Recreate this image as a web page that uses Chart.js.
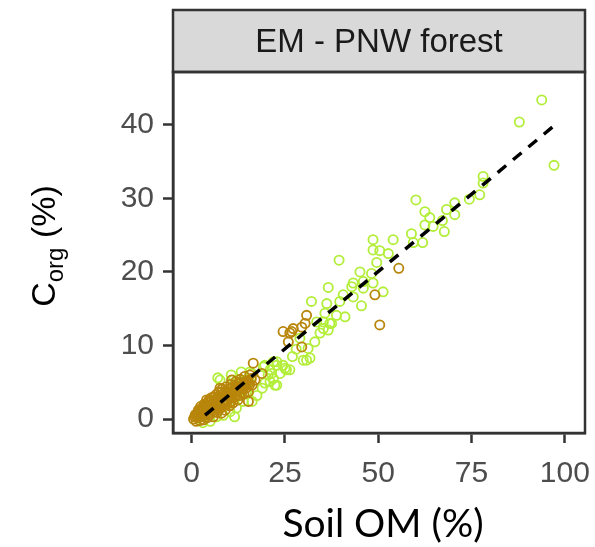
<!DOCTYPE html>
<html lang="en">
<head>
  <meta charset="UTF-8" />
  <title>EM - PNW forest</title>
  <script src="https://cdn.jsdelivr.net/npm/chart.js"></script>
  <style>
    body { margin: 0; background: #fff; }
    canvas { display: block; }
  </style>
</head>
<body>
  <canvas id="corgChart" width="595" height="547"></canvas>

  <script>
    // facet label + tick labels
    const panelTitle = "EM - PNW forest";
    const xTicks = [0, 25, 50, 75, 100];
    const yTicks = [0, 10, 20, 30, 40];

    // [Soil OM %, Corg %]
    const greenPoints = [
      [93.8,43.4],[87.8,40.4],[97.1,34.5],
      [78.1,33.0],[78.1,32.1],[77.2,30.5],[74.4,29.9],[70.5,29.4],[68.3,28.5],[70.5,27.8],[67.2,27.0],[67.7,25.5],[64.7,26.2],
      [60.1,29.8],[62.5,28.2],[63.8,27.4],[62.5,26.4],[58.9,25.2],[61.9,24.0],[59.4,24.0],[54.0,24.4],[48.6,24.4],[48.6,23.0],
      [50.4,22.9],[52.7,22.5],[49.6,21.3],[45.1,20.0],[48.2,19.8],[43.3,18.5],[46.0,18.7],[48.6,18.5],[51.3,17.3],[39.5,21.6],
      [36.6,17.9],[42.9,18.0],[46.0,17.8],[40.6,16.9],[43.3,16.6],[39.7,16.0],[36.2,15.7],[45.5,15.4],[41.1,13.9],[35.3,13.2],
      [37.5,13.0],[36.6,12.1],[32.1,16.0],[35.7,14.4],[38.8,14.1],[33.5,13.2],[35.3,12.3],[37.0,13.0],[34.4,11.7],[31.2,9.6],
      [31.7,8.3],[29.9,8.0],[30.8,8.0],[24.5,7.3],[21.9,7.8],[15.6,6.4],[21.0,6.7],[21.9,5.5],[26.3,6.7],[22.8,7.8],[25.0,6.9],
      [19.2,7.1],[21.4,6.2],[23.7,6.2],[21.0,5.1],[22.3,4.6],[19.6,4.9],[16.1,6.2],[19.6,7.3],[22.8,7.3],[25.4,6.7],[22.8,4.6],
      [20.5,6.0],[7.6,5.3],[11.1,5.3],[13.4,4.9],[15.6,5.1],[12.9,3.7],[14.7,3.7],[13.8,2.4],[12.0,1.5],[10.3,1.0],[8.5,0.5],
      [6.7,0.3],[7.0,5.6],[10.6,6.0],[13.3,6.4],[16.2,2.4],[18.9,4.2],[17.5,3.2],[11.5,0.3],[5.0,-0.3],[3.0,-0.5],[9.0,2.0],
      [28.0,9.5],[27.0,8.5],[33.0,10.5],[29.0,11.0]
    ];
    const brownPoints = [
      [55.5,20.5],[49.1,16.9],[50.4,12.8],
      [30.8,14.1],[30.4,13.0],[27.2,12.3],[29.5,12.5],[24.5,11.9],[26.3,11.7],[26.8,11.9],[25.9,10.5],[29.5,9.8],
      [16.5,7.6],[18.8,6.2],[10.7,5.3],[15.2,3.7],[15.2,2.4],
      [0.5,0.0],[1.0,0.6],[1.2,-0.3],[1.6,0.2],[1.8,1.2],[2.0,0.7],[2.2,-0.2],[2.5,0.3],[2.6,1.4],
      [3.0,0.9],[3.2,-0.1],[3.5,0.5],[3.6,1.8],[3.9,1.1],[4.2,0.2],[4.4,2.3],[4.6,1.4],[4.9,0.6],[5.1,2.0],[5.3,2.9],
      [5.6,1.2],[5.8,0.3],[6.0,2.5],[6.3,1.7],[6.5,3.3],[6.8,0.9],[7.0,2.2],[7.3,3.7],[7.5,1.5],[7.8,2.8],[8.0,0.8],[8.2,4.1],
      [8.5,2.0],[8.8,3.2],[9.0,1.2],[9.3,4.4],[9.6,2.6],[9.9,3.7],[10.2,1.8],[10.5,4.7],[10.8,3.0],[11.1,2.2],[11.4,4.0],
      [11.8,5.1],[12.1,3.3],[12.4,2.6],[12.7,4.4],[13.0,5.4],[13.4,3.6],[13.8,4.8],[14.2,5.8],[14.6,4.2],[15.0,5.2],[15.6,6.0],
      [16.2,4.6],[17.0,5.3],
      [1.4,0.5],[2.3,1.0],[2.8,0.6],[3.4,1.3],[4.1,1.7],[4.4,0.8],[4.7,2.6],[5.4,1.6],[5.9,3.0],[6.1,1.0],[6.6,2.3],[7.1,3.0],
      [7.2,1.2],[7.6,4.2],[8.3,3.4],[8.6,2.6],[9.1,3.8],[9.4,2.0],[10.0,3.0],[10.6,2.4],[11.0,3.5],[11.6,4.5],[12.0,4.0],
      [12.8,3.2],[13.5,4.3],[14.0,3.4],[14.8,5.0],[15.5,4.6],[16.0,5.5],
      [0.8,0.3],[1.7,0.7],[2.1,1.3],[2.7,1.0],[3.1,1.6],[3.7,0.8],[4.3,1.2],[4.9,1.9],[5.2,2.4],[5.7,2.0],[6.2,2.0],[6.7,2.8],
      [6.9,1.6],[7.4,2.5],[7.9,3.6],[8.1,1.6],[8.4,3.0],[8.9,2.4],[9.2,3.1],[9.7,3.3],[10.1,4.1],[10.4,2.8],[10.9,4.3],
      [11.3,3.0],[11.9,3.7],[12.3,4.8],[12.9,4.0],[13.3,5.0],[13.9,4.2],[14.4,5.0],[15.2,4.8],[4.0,2.6],[3.3,2.0],[2.4,1.7]
    ];
    // fitted line ends
    const fitLine = [[3.6,0.54],[96.9,39.8]];

    const toXY = arr => arr.map(p => ({ x: p[0], y: p[1] }));

    // strip, panel border and axis titles
    const decor = {
      id: "decor",
      afterDraw(chart) {
        const c = chart.ctx, a = chart.chartArea;
        c.save();
        c.fillStyle = "#d9d9d9";
        c.fillRect(a.left, 10, a.right - a.left, a.top - 10);
        c.strokeStyle = "#333";
        c.lineWidth = 2.5;
        c.strokeRect(a.left, 10, a.right - a.left, a.top - 10);
        c.strokeRect(a.left, a.top, a.right - a.left, a.bottom - a.top);
        c.fillStyle = "#1a1a1a";
        c.font = "33px 'Liberation Sans', Arial, sans-serif";
        c.textAlign = "center";
        c.textBaseline = "middle";
        c.fillText(panelTitle, (a.left + a.right) / 2, 43);

        c.fillStyle = "#000";
        c.font = "39px Lato, sans-serif";
        c.fillText("Soil OM (%)", 383, 524);

        // y title with subscript
        c.translate(45, 246);
        c.rotate(-Math.PI / 2);
        c.textAlign = "left";
        c.textBaseline = "alphabetic";
        const big = "34px 'Liberation Sans', Arial, sans-serif";
        const small = "24px 'Liberation Sans', Arial, sans-serif";
        c.font = big; const w1 = c.measureText("C").width;
        c.font = small; const w2 = c.measureText("org").width;
        c.font = big; const w3 = c.measureText(" (%)").width;
        let x0 = -(w1 + w2 + w3) / 2;
        c.font = big; c.fillText("C", x0, 10);
        c.font = small; c.fillText("org", x0 + w1, 18);
        c.font = big; c.fillText(" (%)", x0 + w1 + w2, 10);
        c.restore();
      }
    };

    const ctx = document.getElementById("corgChart").getContext("2d");
    new Chart(ctx, {
      type: "scatter",
      data: {
        datasets: [
          {
            type: "line",
            label: "fit",
            order: 0,
            data: toXY(fitLine),
            borderColor: "#000",
            borderWidth: 3.5,
            borderDash: [11, 9],
            pointRadius: 0,
            fill: false
          },
          {
            label: "brown",
            order: 1,
            data: toXY(brownPoints),
            borderColor: "#b8860b",
            backgroundColor: "rgba(0,0,0,0)",
            borderWidth: 1.8,
            pointRadius: 4.6
          },
          {
            label: "green",
            order: 2,
            data: toXY(greenPoints),
            borderColor: "#b3ee3a",
            backgroundColor: "rgba(0,0,0,0)",
            borderWidth: 1.8,
            pointRadius: 4.6
          }
        ]
      },
      options: {
        responsive: false,
        animation: false,
        layout: { padding: { top: 72, right: 10, left: 0, bottom: 0 } },
        plugins: { legend: { display: false }, tooltip: { enabled: false } },
        scales: {
          x: {
            type: "linear",
            min: -5,
            max: 105.4,
            afterBuildTicks: s => { s.ticks = xTicks.map(v => ({ value: v })); },
            afterFit: s => { s.height = 114; s.paddingLeft = 0; s.paddingRight = 0; },
            grid: { drawOnChartArea: false, tickLength: 10, tickColor: "#333", tickWidth: 2.5 },
            border: { display: true, color: "#333", width: 2.5 },
            ticks: {
              color: "#4d4d4d",
              padding: 13,
              maxRotation: 0,
              font: { family: "'Liberation Sans', Arial, sans-serif", size: 30 }
            }
          },
          y: {
            type: "linear",
            min: -1.9,
            max: 47.2,
            afterBuildTicks: s => { s.ticks = yTicks.map(v => ({ value: v })); },
            afterFit: s => { s.width = 173; s.paddingTop = 0; s.paddingBottom = 0; },
            grid: { drawOnChartArea: false, tickLength: 10, tickColor: "#333", tickWidth: 2.5 },
            border: { display: true, color: "#333", width: 2.5 },
            ticks: {
              color: "#4d4d4d",
              padding: 9,
              font: { family: "'Liberation Sans', Arial, sans-serif", size: 30 }
            }
          }
        }
      },
      plugins: [decor]
    });
  </script>
</body>
</html>
